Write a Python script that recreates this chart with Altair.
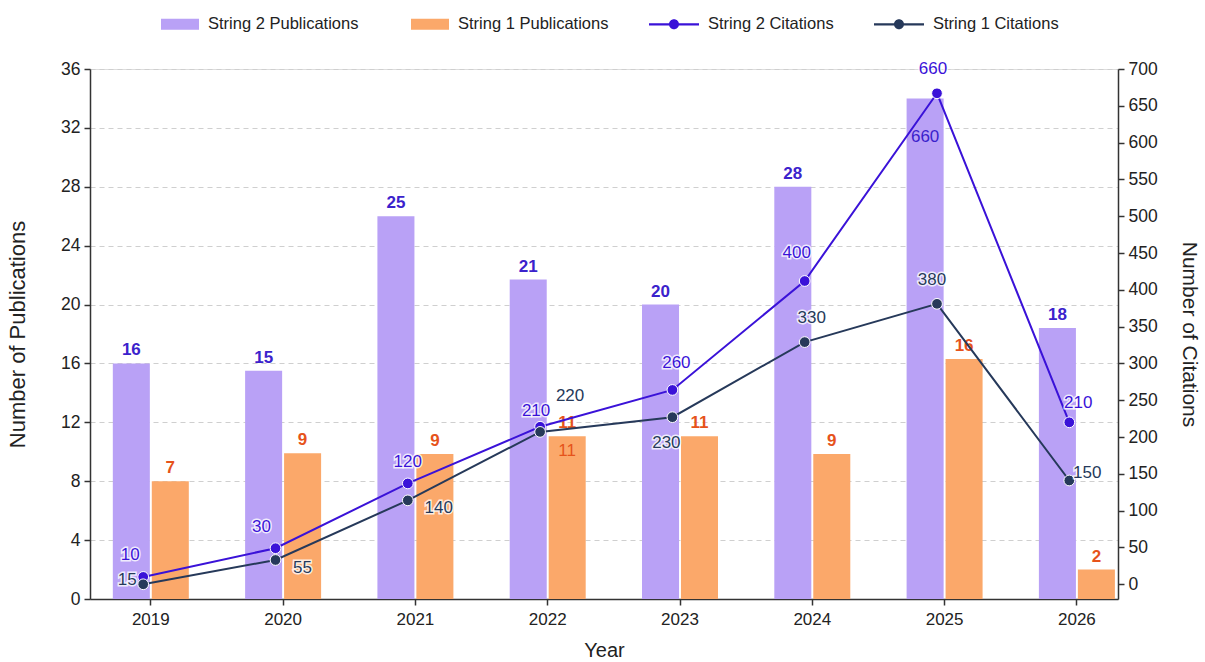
import altair as alt
import pandas as pd

# ---------------- data ----------------
years = ["2019", "2020", "2021", "2022", "2023", "2024", "2025", "2026"]

s2_pubs = [16, 15.5, 26, 21.7, 20, 28, 34, 18.4]
s1_pubs = [8, 9.9, 9.85, 11.05, 11.05, 9.85, 16.3, 2]
s2_pub_labels = ["16", "15", "25", "21", "20", "28", "660", "18"]
s1_pub_labels = ["7", "9", "9", "11", "11", "9", "16", "2"]

s2_cites = [10, 49, 137, 214, 264, 412, 667, 220]
s1_cites = [0, 33, 114, 207, 227, 329, 381, 141]
s2_cite_labels = ["10", "30", "120", "210", "260", "400", "660", "210"]
s1_cite_labels = ["15", "55", "140", "220", "230", "330", "380", "150"]

S2P, S1P = "String 2 Publications", "String 1 Publications"
S2C, S1C = "String 2 Citations", "String 1 Citations"
series_order = [S2P, S1P, S2C, S1C]

# ---------------- styling ----------------
FONT = "Liberation Sans"
palette = ["#b9a1f6", "#fba86a", "#3a12d8", "#26395a"]
label_colors = {S2P: "#3b22cc", S1P: "#e6531b", S2C: "#3a12d8", S1C: "#26395a"}

rect_path = "M-0.52,-0.22L1,-0.22L1,0.22L-0.52,0.22Z"
line_path = ("M-1,-0.045L1,-0.045L1,0.045L-1,0.045Z"
             "M0.2,0A0.2,0.2,0,1,1,-0.2,0A0.2,0.2,0,1,1,0.2,0Z")

# label placement (pixel offsets, annotation layout only)
bar_label_inside = {(S2P, "2025"): 44}
extra_bar_labels = [(S1P, "2022", "11", 20)]
cite_label_offsets = {
    S2C: [(-13, -22), (-14, -21), (0, -21), (-4, -16), (4, -27), (-8, -28), (-4, -24), (9, -19)],
    S1C: [(-16, -4), (27, 8), (31, 8), (30, -36), (-6, 26), (7, -24), (-5, -24), (18, -7)],
}

pubs = pd.DataFrame({
    "year": years * 2,
    "series": [S2P] * 8 + [S1P] * 8,
    "value": s2_pubs + s1_pubs,
    "label": s2_pub_labels + s1_pub_labels,
})
cites = pd.DataFrame({
    "year": years * 2,
    "series": [S2C] * 8 + [S1C] * 8,
    "value": s2_cites + s1_cites,
    "label": s2_cite_labels + s1_cite_labels,
})

color_scale = alt.Scale(domain=series_order, range=palette)
shape_scale = alt.Scale(domain=series_order, range=[rect_path, rect_path, line_path, line_path])
legend = alt.Legend(
    title=None, orient="none", legendX=59, legendY=-70, direction="horizontal",
    symbolSize=2500, labelOffset=9, columnPadding=40, labelFontSize=16.5,
    labelFont=FONT, labelColor="#222222", symbolStrokeWidth=0, symbolOpacity=1,
    labelLimit=400,
)

x_scale = alt.Scale(paddingInner=0.4256, paddingOuter=0.098, align=0.88)
x_axis = alt.Axis(labelAngle=0, title="Year", labelFontSize=17, titleFontSize=20,
                  titleFontWeight="normal",
                  labelFont=FONT, titleFont=FONT, labelColor="#222222", titleColor="#222222",
                  domainColor="#333333", domainWidth=1.5, tickColor="#333333", tickWidth=1.5,
                  tickSize=6, labelPadding=6, titlePadding=13, grid=False)


def xenc(band=None):
    if band is None:
        return alt.X("year:N", sort=years, scale=x_scale, axis=x_axis)
    return alt.X("year:N", sort=years, scale=x_scale, axis=x_axis, bandPosition=band)


y_left = alt.Y("value:Q", scale=alt.Scale(domain=[0, 36], nice=False),
               axis=alt.Axis(values=list(range(0, 37, 4)), title="Number of Publications",
                             labelFontSize=17.5, titleFontSize=22, titleFontWeight="normal",
                             labelFont=FONT, titleFont=FONT,
                             labelColor="#222222", titleColor="#222222",
                             domainColor="#333333", domainWidth=1.5, tickColor="#333333",
                             tickWidth=1.5, tickSize=6, labelPadding=4, titlePadding=31,
                             grid=True, gridDash=[5, 4], gridColor="#cfcfcf", gridWidth=1))
y_right = alt.Y("value:Q", scale=alt.Scale(domain=[-20, 700], nice=False, zero=False),
                axis=alt.Axis(orient="right", values=list(range(0, 701, 50)),
                              title="Number of Citations", labelFontSize=17.5, titleFontSize=21,
                              titleFontWeight="normal",
                              labelFont=FONT, titleFont=FONT, labelColor="#222222",
                              titleColor="#222222", domainColor="#333333", domainWidth=1.5,
                              tickColor="#333333", tickWidth=1.5, tickSize=6, labelPadding=4,
                              titlePadding=21, grid=False))

xoff = alt.XOffset("series:N", sort=[S2P, S1P], scale=alt.Scale(paddingInner=0.05))

base_p = alt.Chart(pubs)
bars = base_p.mark_bar().encode(
    x=xenc(), xOffset=xoff, y=y_left,
    color=alt.Color("series:N", scale=color_scale, legend=legend),
)

left_layers = [bars]
for s in [S2P, S1P]:
    inside = [y for (ss, y) in bar_label_inside if ss == s]
    above = base_p.transform_filter(alt.datum.series == s)
    if inside:
        above = above.transform_filter(~alt.FieldOneOfPredicate(field="year", oneOf=inside))
    left_layers.append(above.mark_text(
        dy=-8, baseline="alphabetic", fontSize=17, fontWeight="bold", font=FONT,
        color=label_colors[s]).encode(x=xenc(), xOffset=xoff, y=y_left, text="label:N"))
for (ss, yr), d in bar_label_inside.items():
    left_layers.append(base_p.transform_filter(
        (alt.datum.series == ss) & (alt.datum.year == yr)).mark_text(
        dy=d, baseline="alphabetic", fontSize=17, font=FONT,
        color=label_colors[ss]).encode(x=xenc(), xOffset=xoff, y=y_left, text="label:N"))
for ss, yr, txt, d in extra_bar_labels:
    left_layers.append(base_p.transform_filter(
        (alt.datum.series == ss) & (alt.datum.year == yr)).mark_text(
        dy=d, baseline="alphabetic", fontSize=17, font=FONT,
        color=label_colors[ss]).encode(x=xenc(), xOffset=xoff, y=y_left, text="label:N"))

left = alt.layer(*left_layers)

base_c = alt.Chart(cites)
lines = base_c.mark_line(strokeWidth=2).encode(
    x=xenc(0.4), y=y_right,
    color=alt.Color("series:N", scale=color_scale, legend=legend),
    detail="series:N",
)
points = base_c.mark_circle(size=115, opacity=1, stroke="white", strokeWidth=1).encode(
    x=xenc(0.4), y=y_right,
    color=alt.Color("series:N", scale=color_scale, legend=legend),
)
# legend-only layer (no rows) that carries the symbol shapes
legend_shapes = base_c.transform_filter("false").mark_point(filled=True, opacity=1).encode(
    x=xenc(0.4), y=y_right,
    color=alt.Color("series:N", scale=color_scale, legend=legend),
    shape=alt.Shape("series:N", scale=shape_scale, legend=legend),
)
right_layers = [lines, points, legend_shapes]
for s in [S2C, S1C]:
    for i, yr in enumerate(years):
        dx, dy = cite_label_offsets[s][i]
        sel = base_c.transform_filter((alt.datum.series == s) & (alt.datum.year == yr))
        # white halo under the label
        right_layers.append(sel.mark_text(
            dx=dx, dy=dy, baseline="middle", fontSize=17, font=FONT,
            stroke="white", strokeWidth=3, strokeOpacity=0.8, color="white").encode(
            x=xenc(0.4), y=y_right, text="label:N"))
        right_layers.append(sel.mark_text(
            dx=dx, dy=dy, baseline="middle", fontSize=17, font=FONT,
            color=label_colors[s]).encode(x=xenc(0.4), y=y_right, text="label:N"))
right = alt.layer(*right_layers)

chart = alt.layer(left, right).resolve_scale(y="independent").properties(
    width=1028, height=530,
    autosize=alt.AutoSizeParams(type="none"),
    padding={"left": 90, "top": 69, "right": 87, "bottom": 63},
).configure_view(stroke=None).configure(background="white")

chart.save("out.html", embed_options={"renderer": "svg", "actions": False})
